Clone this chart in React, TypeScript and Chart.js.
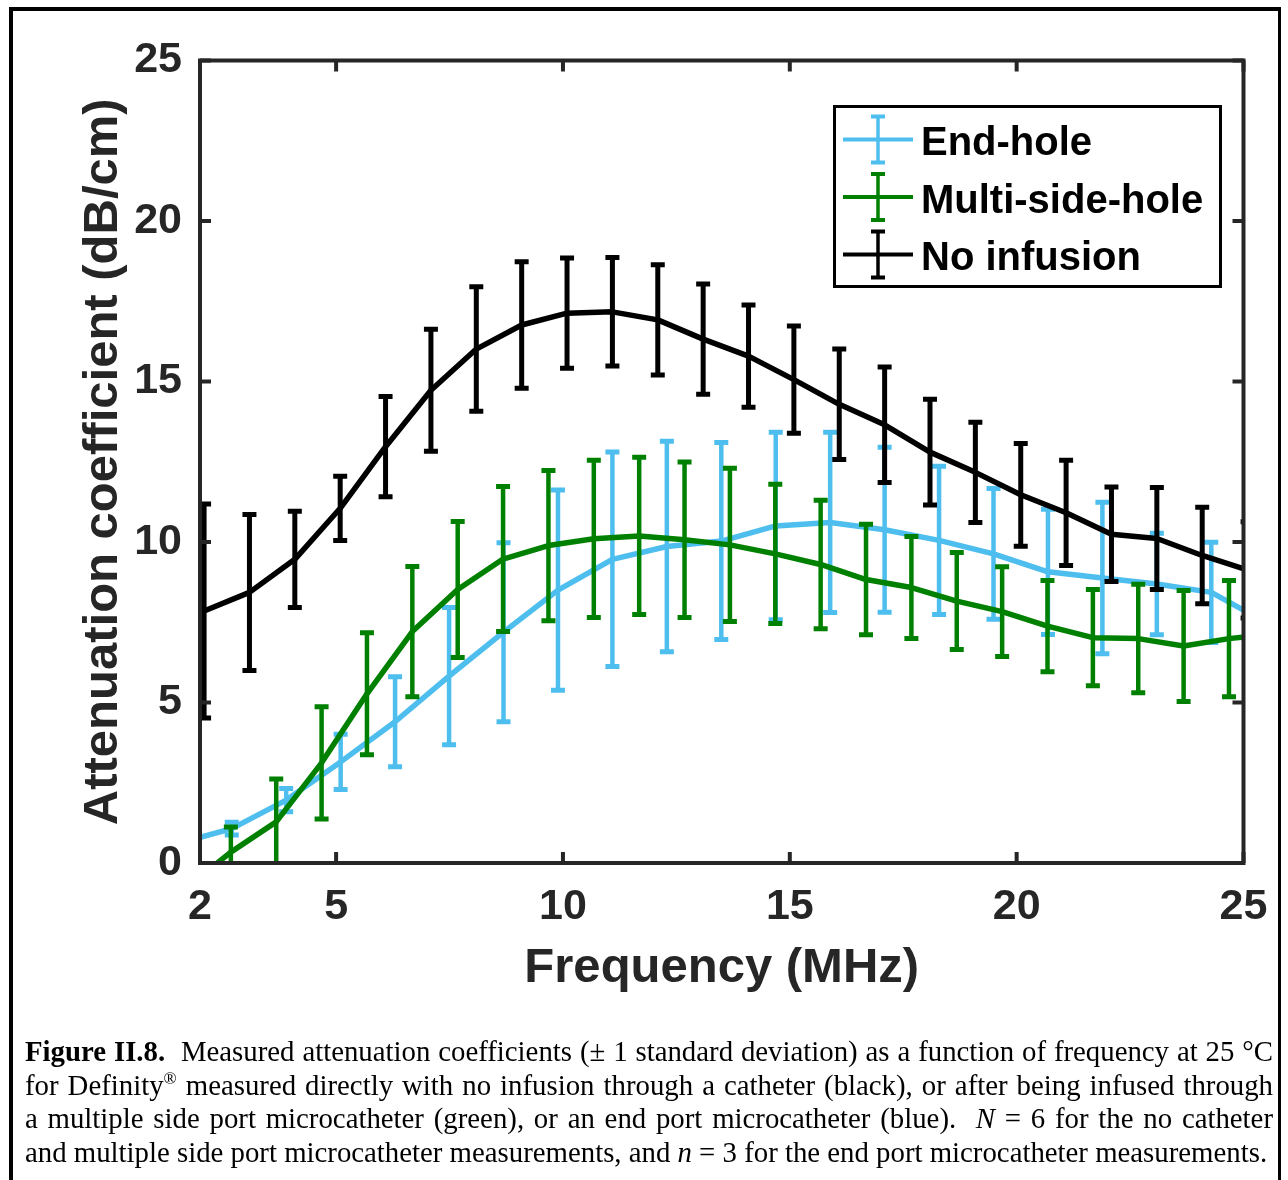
import React, { useEffect, useRef } from "react";
import { Chart, registerables } from "chart.js";

Chart.register(...registerables);

// ---- Data ----
// End-hole (blue)
const endHoleX = [1.5, 2.7, 3.9, 5.1, 6.3, 7.49, 8.69, 9.89, 11.09, 12.29, 13.49, 14.69, 15.89, 17.09, 18.29, 19.49, 20.69, 21.89, 23.09, 24.29, 25.49];
const endHoleY = [0.6, 1.07, 1.96, 3.15, 4.4, 5.82, 7.19, 8.5, 9.46, 9.86, 10.03, 10.5, 10.61, 10.38, 10.05, 9.63, 9.07, 8.88, 8.69, 8.43, 7.5];
const endHoleErr = [0.2, 0.2, 0.36, 0.86, 1.4, 2.14, 2.79, 3.12, 3.34, 3.28, 3.07, 2.92, 2.81, 2.57, 2.31, 2.04, 1.95, 2.36, 1.58, 1.56, 1.5];

// Multi-side-hole (green)
const multiX = [1.68, 2.68, 3.68, 4.68, 5.68, 6.68, 7.68, 8.68, 9.68, 10.68, 11.68, 12.68, 13.68, 14.68, 15.68, 16.68, 17.68, 18.68, 19.68, 20.68, 21.68, 22.68, 23.68, 24.68, 25.68];
const multiY = [-0.8, 0.34, 1.28, 3.12, 5.27, 7.21, 8.52, 9.47, 9.89, 10.1, 10.19, 10.07, 9.91, 9.63, 9.3, 8.83, 8.58, 8.16, 7.83, 7.38, 7.02, 6.99, 6.76, 6.99, 7.15];
const multiErr = [0.8, 0.78, 1.34, 1.75, 1.9, 2.03, 2.12, 2.26, 2.34, 2.45, 2.45, 2.42, 2.39, 2.17, 2.0, 1.72, 1.59, 1.51, 1.4, 1.42, 1.5, 1.69, 1.73, 1.81, 1.8];

// No infusion (black)
const noInfX = [1.09, 2.09, 3.09, 4.09, 5.09, 6.09, 7.09, 8.09, 9.09, 10.09, 11.09, 12.09, 13.09, 14.09, 15.09, 16.09, 17.09, 18.09, 19.09, 20.09, 21.09, 22.09, 23.09, 24.09, 25.09];
const noInfY = [7.55, 7.85, 8.43, 9.46, 11.05, 12.97, 14.73, 16.01, 16.76, 17.13, 17.17, 16.92, 16.32, 15.79, 15.06, 14.29, 13.65, 12.8, 12.17, 11.47, 10.91, 10.24, 10.11, 9.58, 9.13];
const noInfErr = [3.3, 3.33, 2.43, 1.5, 1.0, 1.56, 1.9, 1.94, 1.97, 1.72, 1.69, 1.72, 1.72, 1.59, 1.67, 1.72, 1.8, 1.65, 1.56, 1.6, 1.64, 1.47, 1.59, 1.5, 1.5];

const seriesLabels = ["End-hole", "Multi-side-hole", "No infusion"];
const xTickValues = [2, 5, 10, 15, 20, 25];
const yTickValues = [0, 5, 10, 15, 20, 25];

const BLUE = "#4DBEEE";
const GREEN = "#008000";
const BLACK = "#000000";
const AXIS = "#262626";
const SANS = '"Liberation Sans", Arial, Helvetica, sans-serif';

const toPoints = (xs: number[], ys: number[]) => xs.map((x, i) => ({ x, y: ys[i] }));

const errorBarPlugin = {
  id: "errorBars",
  afterDatasetDraw(chart: any, args: any) {
    const ds = chart.data.datasets[args.index];
    const errs: number[] = ds.errors;
    if (!errs) return;
    const xs = chart.scales.x;
    const ys = chart.scales.y;
    const ca = chart.chartArea;
    const ctx = chart.ctx;
    ctx.save();
    ctx.beginPath();
    ctx.rect(ca.left, ca.top, ca.right - ca.left, ca.bottom - ca.top);
    ctx.clip();
    ctx.strokeStyle = ds.borderColor;
    ctx.lineCap = "butt";
    const half = 7;
    ds.data.forEach((p: any, i: number) => {
      const px = xs.getPixelForValue(p.x);
      const t = ys.getPixelForValue(p.y + errs[i]);
      const b = ys.getPixelForValue(p.y - errs[i]);
      ctx.lineWidth = ds.errorWidth;
      ctx.beginPath();
      ctx.moveTo(px, t);
      ctx.lineTo(px, b);
      ctx.stroke();
      ctx.lineWidth = ds.capWidth;
      ctx.beginPath();
      ctx.moveTo(px - half, t);
      ctx.lineTo(px + half, t);
      ctx.moveTo(px - half, b);
      ctx.lineTo(px + half, b);
      ctx.stroke();
    });
    ctx.restore();
  },
};

const framePlugin = {
  id: "frameAndLegend",
  afterDraw(chart: any) {
    const ctx = chart.ctx;
    const ca = chart.chartArea;
    const xs = chart.scales.x;
    const ys = chart.scales.y;
    ctx.save();
    // axes box
    ctx.strokeStyle = AXIS;
    ctx.lineWidth = 4;
    ctx.strokeRect(ca.left, ca.top, ca.right - ca.left, ca.bottom - ca.top);
    // inward ticks on all sides
    const tl = 11;
    ctx.beginPath();
    xTickValues.forEach((v) => {
      const px = xs.getPixelForValue(v);
      ctx.moveTo(px, ca.bottom);
      ctx.lineTo(px, ca.bottom - tl);
      ctx.moveTo(px, ca.top);
      ctx.lineTo(px, ca.top + tl);
    });
    yTickValues.forEach((v) => {
      const py = ys.getPixelForValue(v);
      ctx.moveTo(ca.left, py);
      ctx.lineTo(ca.left + tl, py);
      ctx.moveTo(ca.right, py);
      ctx.lineTo(ca.right - tl, py);
    });
    ctx.stroke();

    // legend
    const bx = ca.right - 21.5 - 389;
    const by = ca.top + 44.5;
    const bw = 389;
    const bh = 183;
    ctx.fillStyle = "#ffffff";
    ctx.fillRect(bx, by, bw, bh);
    ctx.strokeStyle = "#000000";
    ctx.lineWidth = 3;
    ctx.strokeRect(bx + 1.5, by + 1.5, bw - 3, bh - 3);
    const colors = [BLUE, GREEN, BLACK];
    const rowOffsets = [34.5, 92, 149.5];
    ctx.font = `bold 40px ${SANS}`;
    ctx.textBaseline = "alphabetic";
    ctx.textAlign = "left";
    seriesLabels.forEach((label, i) => {
      const ry = by + rowOffsets[i];
      const cx = bx + 45;
      ctx.strokeStyle = colors[i];
      ctx.lineWidth = 4;
      ctx.beginPath();
      ctx.moveTo(bx + 10, ry);
      ctx.lineTo(bx + 80, ry);
      ctx.stroke();
      ctx.lineWidth = 3.5;
      ctx.beginPath();
      ctx.moveTo(cx, ry - 23);
      ctx.lineTo(cx, ry + 23);
      ctx.stroke();
      ctx.lineWidth = 4;
      ctx.beginPath();
      ctx.moveTo(cx - 7, ry - 23);
      ctx.lineTo(cx + 7, ry - 23);
      ctx.moveTo(cx - 7, ry + 23);
      ctx.lineTo(cx + 7, ry + 23);
      ctx.stroke();
      ctx.fillStyle = "#000000";
      ctx.fillText(label, bx + 88, ry + 15.5);
    });
    ctx.restore();
  },
};

export default function App() {
  const ref = useRef<HTMLCanvasElement>(null);

  useEffect(() => {
    const canvas = ref.current;
    if (!canvas) return;
    const chart = new Chart(canvas, {
      type: "line",
      data: {
        datasets: [
          {
            label: seriesLabels[0],
            data: toPoints(endHoleX, endHoleY),
            borderColor: BLUE,
            backgroundColor: BLUE,
            borderWidth: 5.5,
            pointRadius: 0,
            tension: 0,
            fill: false,
            clip: 0,
            order: 3,
            borderJoinStyle: "round",
            errors: endHoleErr,
            errorWidth: 4.5,
            capWidth: 5,
          } as any,
          {
            label: seriesLabels[1],
            data: toPoints(multiX, multiY),
            borderColor: GREEN,
            backgroundColor: GREEN,
            borderWidth: 5.5,
            pointRadius: 0,
            tension: 0,
            fill: false,
            clip: 0,
            order: 2,
            borderJoinStyle: "round",
            errors: multiErr,
            errorWidth: 4.5,
            capWidth: 5,
          } as any,
          {
            label: seriesLabels[2],
            data: toPoints(noInfX, noInfY),
            borderColor: BLACK,
            backgroundColor: BLACK,
            borderWidth: 5.5,
            pointRadius: 0,
            tension: 0,
            fill: false,
            clip: 0,
            order: 1,
            borderJoinStyle: "round",
            errors: noInfErr,
            errorWidth: 5,
            capWidth: 5,
          } as any,
        ],
      },
      options: {
        responsive: false,
        maintainAspectRatio: false,
        animation: false,
        devicePixelRatio: 1,
        layout: { padding: { left: 0, top: 60.5, right: 44.5, bottom: 0 } },
        plugins: {
          legend: { display: false },
          tooltip: { enabled: false },
        },
        scales: {
          x: {
            type: "linear",
            min: 2,
            max: 25,
            grid: { display: false, drawTicks: false },
            border: { display: false },
            afterBuildTicks: (scale: any) => {
              scale.ticks = xTickValues.map((v) => ({ value: v }));
            },
            afterFit: (scale: any) => {
              scale.height = 147;
            },
            ticks: {
              color: AXIS,
              padding: 18,
              maxRotation: 0,
              autoSkip: false,
              font: { family: SANS, size: 43, weight: "bold", lineHeight: 1.2 },
            },
            title: {
              display: true,
              text: "Frequency (MHz)",
              color: AXIS,
              padding: { top: 0, bottom: 12 },
              font: { family: SANS, size: 49, weight: "bold", lineHeight: 1.2 },
            },
          },
          y: {
            type: "linear",
            min: 0,
            max: 25,
            grid: { display: false, drawTicks: false },
            border: { display: false },
            afterBuildTicks: (scale: any) => {
              scale.ticks = yTickValues.map((v) => ({ value: v }));
            },
            afterFit: (scale: any) => {
              scale.width = 200;
            },
            ticks: {
              color: AXIS,
              padding: 18,
              autoSkip: false,
              font: { family: SANS, size: 43, weight: "bold", lineHeight: 1.2 },
            },
            title: {
              display: true,
              text: "Attenuation coefficient (dB/cm)",
              color: AXIS,
              padding: { top: 73.6, bottom: 0 },
              font: { family: SANS, size: 49, weight: "bold", lineHeight: 1.2 },
            },
          },
        },
      } as any,
      plugins: [errorBarPlugin, framePlugin],
    });
    return () => chart.destroy();
  }, []);

  const lineStyle: React.CSSProperties = {
    textAlign: "justify",
    textAlignLast: "justify" as any,
    whiteSpace: "normal",
    height: 33.5,
  };

  return (
    <div
      style={{
        position: "fixed",
        left: 0,
        top: 0,
        width: 1288,
        height: 1180,
        overflow: "hidden",
        background: "#ffffff",
      }}
    >
      <canvas
        ref={ref}
        width={1288}
        height={1010}
        style={{ position: "absolute", left: 0, top: 0, width: 1288, height: 1010 }}
      />
      <div
        style={{
          position: "absolute",
          left: 9,
          top: 7,
          width: 1272,
          height: 1180,
          borderLeft: "4px solid #000",
          borderTop: "4px solid #000",
          borderRight: "3px solid #000",
          boxSizing: "border-box",
          pointerEvents: "none",
        }}
      />
      <div
        style={{
          position: "absolute",
          left: 25,
          top: 1035,
          width: 1248,
          fontFamily: '"Liberation Serif", "Times New Roman", Times, serif',
          fontSize: 28.8,
          lineHeight: "33.5px",
          color: "#000",
        }}
      >
        <div style={lineStyle}>
          <b>Figure II.8.</b>&nbsp; Measured attenuation coefficients (± 1 standard deviation) as a function of frequency at 25 °C
        </div>
        <div style={lineStyle}>
          for Definity<sup style={{ fontSize: "60%", lineHeight: 0 }}>®</sup> measured directly with no infusion through a catheter (black), or after being infused through
        </div>
        <div style={lineStyle}>
          a multiple side port microcatheter (green), or an end port microcatheter (blue).&nbsp; <i>N</i> = 6 for the no catheter
        </div>
        <div style={{ whiteSpace: "nowrap", height: 33.5 }}>
          and multiple side port microcatheter measurements, and <i>n</i> = 3 for the end port microcatheter measurements.
        </div>
      </div>
    </div>
  );
}
